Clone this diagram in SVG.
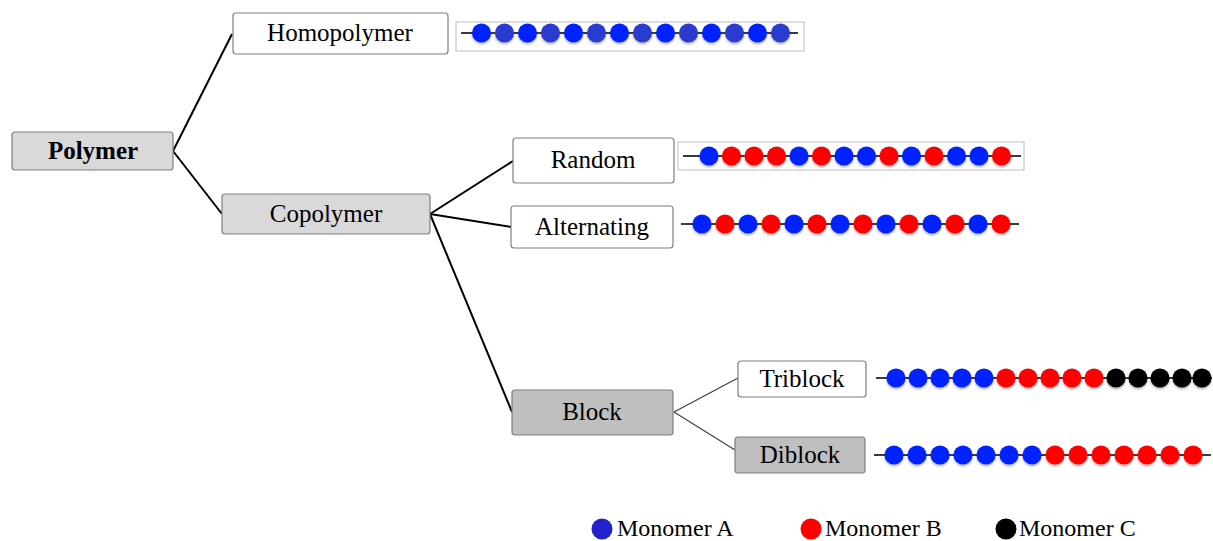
<svg xmlns="http://www.w3.org/2000/svg" width="1213" height="541" viewBox="0 0 1213 541">
<style>
.box{stroke:#7f7f7f;stroke-width:1.2}
.w{fill:#ffffff}.g1{fill:#d9d9d9}.g2{fill:#bfbfbf}
.t{font-family:"Liberation Serif","Times New Roman",serif;font-size:25px;fill:#000;text-anchor:middle}
.lg{font-family:"Liberation Serif","Times New Roman",serif;font-size:24px;fill:#000}
.con{stroke:#000;stroke-width:2;fill:none}
.con2{stroke:#404040;stroke-width:1.2;fill:none}
.chainline{stroke:#3a3a3a;stroke-width:2}
.frame{fill:#fff;stroke:#c8c8c8;stroke-width:1.2}
.A{fill:#0022ff}.A2{fill:#2a3bd0}.B{fill:#ff0000}.C{fill:#000}
</style>
<defs>
<filter id="sh" x="-30%" y="-30%" width="160%" height="170%">
<feDropShadow dx="0" dy="1.5" stdDeviation="1.2" flood-color="#000" flood-opacity="0.35"/>
</filter>
</defs>
<rect width="1213" height="541" fill="#fff"/>
<g id="connectors">
<path class="con" d="M173,151 L232,34"/>
<path class="con" d="M173,151 L222,214"/>
<path class="con" d="M430,214 L513,161"/>
<path class="con" d="M430,214 L511,227"/>
<path class="con" d="M430,214 L512,412"/>
<path class="con2" d="M674,412 L738,378"/>
<path class="con2" d="M674,412 L735,450"/>
</g>
<g id="polymer">
<rect class="box g1" x="12" y="132" width="161" height="38" rx="3"/>
<text class="t" x="93" y="159" font-weight="bold">Polymer</text>
</g>
<g id="homopolymer">
<rect class="box w" x="233" y="13" width="215" height="41" rx="3"/>
<text class="t" x="340" y="41">Homopolymer</text>
</g>
<g id="copolymer">
<rect class="box g1" x="222" y="194" width="208" height="40" rx="3"/>
<text class="t" x="326" y="222">Copolymer</text>
</g>
<g id="random">
<rect class="box w" x="513" y="138" width="161" height="45" rx="3"/>
<text class="t" x="593" y="168">Random</text>
</g>
<g id="alternating">
<rect class="box w" x="511" y="206" width="162" height="42" rx="3"/>
<text class="t" x="592" y="235">Alternating</text>
</g>
<g id="block">
<rect class="box g2" x="512" y="390" width="161" height="45" rx="3"/>
<text class="t" x="592" y="420">Block</text>
</g>
<g id="triblock">
<rect class="box w" x="738" y="361" width="128" height="36" rx="3"/>
<text class="t" x="802" y="387">Triblock</text>
</g>
<g id="diblock">
<rect class="box g2" x="735" y="437" width="130" height="36" rx="3"/>
<text class="t" x="800" y="463">Diblock</text>
</g>
<g id="homopolymer-chain">
<rect class="frame" x="456" y="22" width="348" height="29"/>
<line class="chainline" x1="461" y1="33" x2="798" y2="33"/>
<g filter="url(#sh)">
<circle class="A" cx="481.5" cy="33" r="9.5"/><circle class="A2" cx="504.5" cy="33" r="9.5"/>
<circle class="A" cx="527.5" cy="33" r="9.5"/><circle class="A2" cx="550.5" cy="33" r="9.5"/>
<circle class="A" cx="573.5" cy="33" r="9.5"/><circle class="A2" cx="596.5" cy="33" r="9.5"/>
<circle class="A" cx="619.5" cy="33" r="9.5"/><circle class="A2" cx="642.5" cy="33" r="9.5"/>
<circle class="A" cx="665.5" cy="33" r="9.5"/><circle class="A2" cx="688.5" cy="33" r="9.5"/>
<circle class="A" cx="711.5" cy="33" r="9.5"/><circle class="A2" cx="734.5" cy="33" r="9.5"/>
<circle class="A" cx="757.5" cy="33" r="9.5"/><circle class="A2" cx="780.5" cy="33" r="9.5"/>
</g>
</g>
<g id="random-chain">
<rect class="frame" x="678" y="142" width="346" height="28"/>
<line class="chainline" x1="683" y1="156" x2="1021" y2="156"/>
<g filter="url(#sh)">
<circle class="A" cx="709" cy="156" r="9.5"/><circle class="B" cx="731.5" cy="156" r="9.5"/>
<circle class="B" cx="754" cy="156" r="9.5"/><circle class="B" cx="776.5" cy="156" r="9.5"/>
<circle class="A" cx="799" cy="156" r="9.5"/><circle class="B" cx="821.5" cy="156" r="9.5"/>
<circle class="A" cx="844" cy="156" r="9.5"/><circle class="A" cx="866.5" cy="156" r="9.5"/>
<circle class="B" cx="889" cy="156" r="9.5"/><circle class="A" cx="911.5" cy="156" r="9.5"/>
<circle class="B" cx="934" cy="156" r="9.5"/><circle class="A" cx="956.5" cy="156" r="9.5"/>
<circle class="A" cx="979" cy="156" r="9.5"/><circle class="B" cx="1001.5" cy="156" r="9.5"/>
</g>
</g>
<g id="alternating-chain">
<line class="chainline" x1="681" y1="224" x2="1019" y2="224"/>
<g filter="url(#sh)">
<circle class="A" cx="702" cy="224" r="9.5"/><circle class="B" cx="725" cy="224" r="9.5"/>
<circle class="A" cx="748" cy="224" r="9.5"/><circle class="B" cx="771" cy="224" r="9.5"/>
<circle class="A" cx="794" cy="224" r="9.5"/><circle class="B" cx="817" cy="224" r="9.5"/>
<circle class="A" cx="840" cy="224" r="9.5"/><circle class="B" cx="863" cy="224" r="9.5"/>
<circle class="A" cx="886" cy="224" r="9.5"/><circle class="B" cx="909" cy="224" r="9.5"/>
<circle class="A" cx="932" cy="224" r="9.5"/><circle class="B" cx="955" cy="224" r="9.5"/>
<circle class="A" cx="978" cy="224" r="9.5"/><circle class="B" cx="1001" cy="224" r="9.5"/>
</g>
</g>
<g id="triblock-chain">
<line class="chainline" x1="876" y1="378" x2="1212" y2="378"/>
<g filter="url(#sh)">
<circle class="A" cx="896" cy="378" r="9.5"/><circle class="A" cx="918" cy="378" r="9.5"/>
<circle class="A" cx="940" cy="378" r="9.5"/><circle class="A" cx="962" cy="378" r="9.5"/>
<circle class="A" cx="984" cy="378" r="9.5"/><circle class="B" cx="1006" cy="378" r="9.5"/>
<circle class="B" cx="1028" cy="378" r="9.5"/><circle class="B" cx="1050" cy="378" r="9.5"/>
<circle class="B" cx="1072" cy="378" r="9.5"/><circle class="B" cx="1094" cy="378" r="9.5"/>
<circle class="C" cx="1116" cy="378" r="9.5"/><circle class="C" cx="1138" cy="378" r="9.5"/>
<circle class="C" cx="1160" cy="378" r="9.5"/><circle class="C" cx="1182" cy="378" r="9.5"/>
<circle class="C" cx="1202" cy="378" r="9.5"/>
</g>
</g>
<g id="diblock-chain">
<line class="chainline" x1="874" y1="455" x2="1211" y2="455"/>
<g filter="url(#sh)">
<circle class="A" cx="894" cy="455" r="9.5"/><circle class="A" cx="917" cy="455" r="9.5"/>
<circle class="A" cx="940" cy="455" r="9.5"/><circle class="A" cx="963" cy="455" r="9.5"/>
<circle class="A" cx="986" cy="455" r="9.5"/><circle class="A" cx="1009" cy="455" r="9.5"/>
<circle class="A" cx="1032" cy="455" r="9.5"/><circle class="B" cx="1055" cy="455" r="9.5"/>
<circle class="B" cx="1078" cy="455" r="9.5"/><circle class="B" cx="1101" cy="455" r="9.5"/>
<circle class="B" cx="1124" cy="455" r="9.5"/><circle class="B" cx="1147" cy="455" r="9.5"/>
<circle class="B" cx="1170" cy="455" r="9.5"/><circle class="B" cx="1193" cy="455" r="9.5"/>
</g>
</g>
<g id="legend">
<circle cx="602" cy="529" r="10.5" fill="#2222cc"/>
<text class="lg" x="617" y="536">Monomer A</text>
<circle cx="811" cy="529" r="10.5" fill="#ff0000"/>
<text class="lg" x="825" y="536">Monomer B</text>
<circle cx="1006" cy="529" r="10.5" fill="#000"/>
<text class="lg" x="1019" y="536">Monomer C</text>
</g>
</svg>
